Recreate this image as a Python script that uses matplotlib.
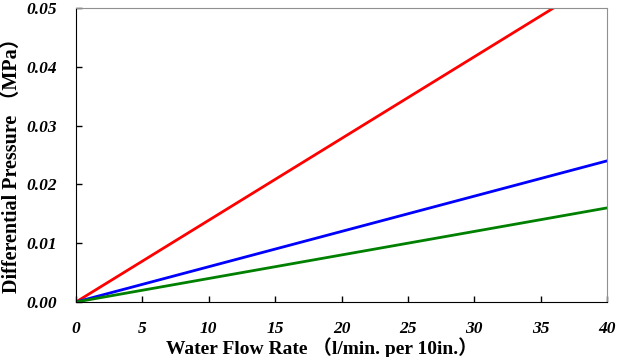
import matplotlib
matplotlib.use("Agg")
import matplotlib.pyplot as plt

flow = [0, 40]
red_dp = [0, 0.0556]
blue_dp = [0, 0.024]
green_dp = [0, 0.016]
xticks = [0, 5, 10, 15, 20, 25, 30, 35, 40]
yticks = [0.00, 0.01, 0.02, 0.03, 0.04, 0.05]

fam = ['Liberation Serif', 'Noto Sans CJK JP']
fig = plt.figure(figsize=(6.18, 3.57), dpi=100)
ax = fig.add_axes([76/618, 1-302/357, (607-76)/618, (302-8)/357])
ax.plot(flow, red_dp, color='#ff0000', lw=2)
ax.plot(flow, blue_dp, color='#0000ff', lw=2)
ax.plot(flow, green_dp, color='#008000', lw=2)
ax.set_xlim(0, 40)
ax.set_ylim(0, 0.05)
ax.set_xticks(xticks)
ax.set_yticks(yticks)
ax.set_xticklabels([str(v) for v in xticks], family=fam, fontsize=12.5, fontweight='bold', style='italic')
ax.set_yticklabels([f"{v:.2f}" for v in yticks], family=fam, fontsize=12.5, fontweight='bold', style='italic')
ax.tick_params(direction='in', length=4, width=1, color='black')
ax.tick_params(axis='x', pad=14)
ax.tick_params(axis='y', pad=14)
for s in ['top', 'right']:
    ax.spines[s].set_color('#909090')
for s in ['left', 'bottom']:
    ax.spines[s].set_color('black')
ax.set_xlabel('Water Flow Rate （l/min. per 10in.）', family=fam, fontsize=14, fontweight='bold')
ax.set_ylabel('Differential Pressure （MPa）', family=fam, fontsize=14.5, fontweight='bold')
ax.xaxis.set_label_coords((322 - 76) / 531, -(337 - 302) / 294)
ax.yaxis.set_label_coords(-(76 - 22) / 531, (302 - 161) / 294)
fig.savefig('out.png', dpi=100)
